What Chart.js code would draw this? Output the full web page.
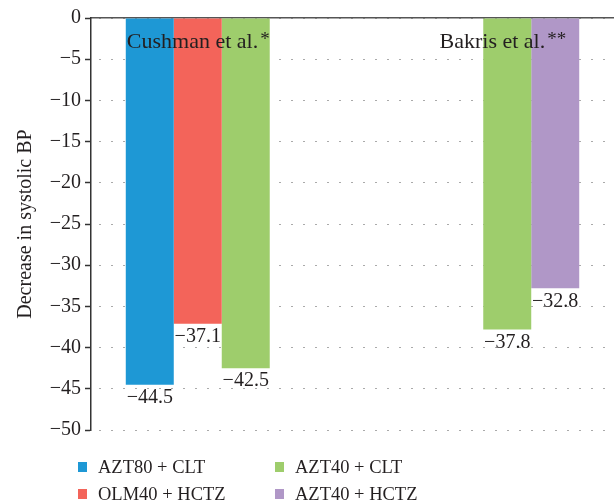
<!DOCTYPE html>
<html lang="en">
<head>
  <meta charset="UTF-8">
  <title>Decrease in systolic BP</title>
  <script src="https://cdn.jsdelivr.net/npm/chart.js"></script>
  <style>
    html, body { margin: 0; padding: 0; background: #fff; }
    #wrap { width: 614px; height: 504px; }
  </style>
</head>
<body>
  <div id="wrap"><canvas id="bpChart" width="614" height="504"></canvas></div>
  <script>
    // studies (categories) and treatment arms
    const studies = ['Cushman et al.', 'Bakris et al.'];
    const studyMarks = ['*', '**'];
    const arms = ['AZT80 + CLT', 'OLM40 + HCTZ', 'AZT40 + CLT', 'AZT40 + HCTZ'];
    const armColors = ['#1e98d5', '#f3645a', '#9ecd6c', '#b097c7'];
    const azt80Clt = [-44.5, null];
    const olm40Hctz = [-37.1, null];
    const azt40Clt = [-42.5, -37.8];
    const azt40Hctz = [null, -32.8];
    const yTicks = [0, -5, -10, -15, -20, -25, -30, -35, -40, -45, -50];

    const serif = '"Liberation Serif", "DejaVu Serif", serif';
    const ink = '#231f20';
    const fmt = v => (v < 0 ? '\u2212' : '') + Math.abs(v);

    const extras = {
      id: 'extras',
      afterDatasetsDraw(chart) {
        const ctx = chart.ctx;
        ctx.save();
        ctx.fillStyle = ink;
        // value labels under each bar
        ctx.font = '20px ' + serif;
        ctx.textAlign = 'center';
        ctx.textBaseline = 'top';
        chart.data.datasets.forEach((ds, i) => {
          chart.getDatasetMeta(i).data.forEach((bar, j) => {
            if (ds.data[j] == null) return;
            ctx.fillText(fmt(ds.data[j]), bar.x, bar.y + 3);
          });
        });
        // study names near the top
        const first = chart.getDatasetMeta(0).data[0];
        const last = chart.getDatasetMeta(3).data[1];
        const top = chart.chartArea.top;
        ctx.textBaseline = 'alphabetic';
        const drawStudy = (i, x, align) => {
          ctx.font = '22px ' + serif;
          const w1 = ctx.measureText(studies[i]).width;
          ctx.font = '19px ' + serif;
          const w2 = ctx.measureText(studyMarks[i]).width + 2;
          const x0 = align === 'left' ? x : x - w1 - w2;
          ctx.textAlign = 'left';
          ctx.font = '22px ' + serif;
          ctx.fillText(studies[i], x0, top + 30);
          ctx.font = '19px ' + serif;
          ctx.fillText(studyMarks[i], x0 + w1 + 2, top + 27);
        };
        drawStudy(0, first.x - first.width / 2 + 1, 'left');
        drawStudy(1, last.x + last.width / 2 - 13, 'right');
        ctx.restore();
      },
      afterDraw(chart) {
        // legend in two columns below the plot
        const ctx = chart.ctx;
        const order = [[0, 1], [2, 3]];
        const colX = [78, 275];
        const rowY = [467, 494];
        ctx.save();
        ctx.font = '18.5px ' + serif;
        ctx.textBaseline = 'middle';
        ctx.textAlign = 'left';
        order.forEach((col, c) => {
          col.forEach((di, r) => {
            const ds = chart.data.datasets[di];
            ctx.fillStyle = ds.backgroundColor;
            ctx.fillRect(colX[c], rowY[r] - 5, 9, 10);
            ctx.fillStyle = ink;
            ctx.fillText(ds.label, colX[c] + 20, rowY[r] + 1);
          });
        });
        ctx.restore();
      }
    };

    const ctx = document.getElementById('bpChart').getContext('2d');
    const chart = new Chart(ctx, {
      type: 'bar',
      data: {
        labels: studies,
        datasets: [
          { label: arms[0], data: azt80Clt, backgroundColor: armColors[0] },
          { label: arms[1], data: olm40Hctz, backgroundColor: armColors[1] },
          { label: arms[2], data: azt40Clt, backgroundColor: armColors[2] },
          { label: arms[3], data: azt40Hctz, backgroundColor: armColors[3] }
        ]
      },
      options: {
        responsive: false,
        animation: false,
        layout: { padding: { top: 10, bottom: 74, left: 0, right: 0 } },
        datasets: { bar: { categoryPercentage: 0.734, barPercentage: 1, borderWidth: 0 } },
        plugins: { legend: { display: false }, tooltip: { enabled: false } },
        scales: {
          x: {
            position: 'top',
            ticks: { display: false },
            grid: { display: false },
            border: { display: true, color: '#555', width: 1.5 }
          },
          y: {
            min: -50,
            max: 0,
            afterFit(scale) { scale.width = 91; },
            afterBuildTicks(scale) { scale.ticks = yTicks.map(v => ({ value: v })); },
            ticks: {
              color: ink,
              font: { family: serif, size: 20 },
              padding: 4,
              callback: v => fmt(v)
            },
            grid: {
              color: '#555',
              lineWidth: 1,
              tickLength: 6,
              tickColor: '#333',
              tickWidth: 1.5,
              tickBorderDash: []
            },
            border: { display: true, color: '#333', width: 1.5, dash: [1, 11], dashOffset: -8 },
            title: {
              display: true,
              text: 'Decrease in systolic BP',
              color: ink,
              font: { family: serif, size: 20 },
              padding: { top: 14, bottom: 0 }
            }
          }
        }
      },
      plugins: [extras]
    });
  </script>
</body>
</html>
